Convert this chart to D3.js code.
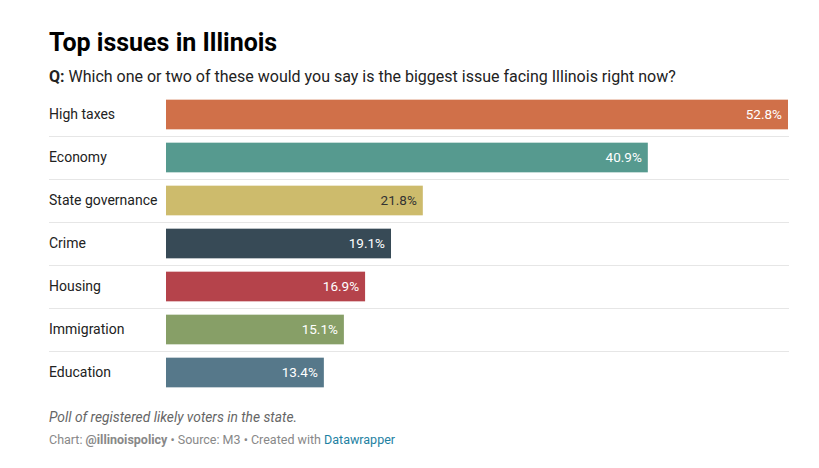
<!DOCTYPE html>
<html>
<head>
<meta charset="utf-8">
<script src="https://cdn.jsdelivr.net/npm/d3@7"></script>
<style>
    body { margin: 0; background: #fff; font-family: Roboto, "Noto Sans", sans-serif; }
    svg text { font-family: Roboto, "Noto Sans", sans-serif; }
</style>
</head>
<body>
<div id="chart"></div>
<script>
// chart values
var categories = ["High taxes", "Economy", "State governance", "Crime", "Housing", "Immigration", "Education"];
var values = [52.8, 40.9, 21.8, 19.1, 16.9, 15.1, 13.4];
var colors = ["#d07049", "#569a8f", "#cdbb6c", "#374a56", "#b5434b", "#879f67", "#56788a"];
var darkLabels = ["State governance"];  // light bars get dark value text

var svg_width = 819, svg_height = 468;
var svg = d3.select("#chart").append("svg")
    .attr("width", svg_width)
    .attr("height", svg_height);

// header
svg.append("text")
    .attr("x", 49).attr("y", 51)
    .attr("font-size", 25).attr("font-weight", 700)
    .attr("fill", "#000")
    .text("Top issues in Illinois");

var sub = svg.append("text")
    .attr("x", 49).attr("y", 82)
    .attr("font-size", 16).attr("fill", "#222");
sub.append("tspan").attr("font-weight", 700).text("Q:");
sub.append("tspan").text(" Which one or two of these would you say is the biggest issue facing Illinois right now?");

// scales
var x = d3.scaleLinear().domain([0, d3.max(values)]).range([166, 788]);
var y = d3.scaleBand().domain(categories).range([93, 394]).paddingInner(0.31).paddingOuter(0.155);

var rows = svg.append("g").selectAll("g")
    .data(categories)
  .enter().append("g");

// separators between rows
rows.filter(function(d, i) { return i < categories.length - 1; })
  .append("line")
    .attr("x1", 49).attr("x2", 789)
    .attr("y1", function(d) { return Math.round(y(d) + y.bandwidth() + y.step() * y.paddingInner() / 2) + 0.5; })
    .attr("y2", function(d) { return Math.round(y(d) + y.bandwidth() + y.step() * y.paddingInner() / 2) + 0.5; })
    .attr("stroke", "#e6e6e6").attr("stroke-width", 1);

rows.append("text")
    .attr("x", 49)
    .attr("y", function(d) { return y(d) + y.bandwidth() / 2; })
    .attr("dy", "0.35em")
    .attr("font-size", 14).attr("fill", "#222")
    .text(function(d) { return d; });

rows.append("rect")
    .attr("x", x(0))
    .attr("y", function(d) { return y(d); })
    .attr("height", y.bandwidth())
    .attr("width", function(d, i) { return x(values[i]) - x(0); })
    .attr("fill", function(d, i) { return colors[i]; });

rows.append("text")
    .attr("x", function(d, i) { return x(values[i]) - 6; })
    .attr("y", function(d) { return y(d) + y.bandwidth() / 2; })
    .attr("dy", "0.35em")
    .attr("text-anchor", "end")
    .attr("font-size", 13.5)
    .attr("fill", function(d) { return darkLabels.indexOf(d) >= 0 ? "#333" : "#fff"; })
    .text(function(d, i) { return values[i].toFixed(1) + "%"; });

// footer
svg.append("text")
    .attr("x", 49).attr("y", 422)
    .attr("font-size", 13.8).attr("font-style", "italic").attr("fill", "#666")
    .text("Poll of registered likely voters in the state.");

var credit = svg.append("text")
    .attr("x", 49).attr("y", 444)
    .attr("font-size", 12.5).attr("fill", "#888");
credit.append("tspan").text("Chart: ");
credit.append("tspan").attr("font-weight", 700).text("@illinoispolicy");
credit.append("tspan").text(" • Source: M3 • Created with ");
credit.append("tspan").attr("fill", "#1d81a2").text("Datawrapper");
</script>
</body>
</html>
